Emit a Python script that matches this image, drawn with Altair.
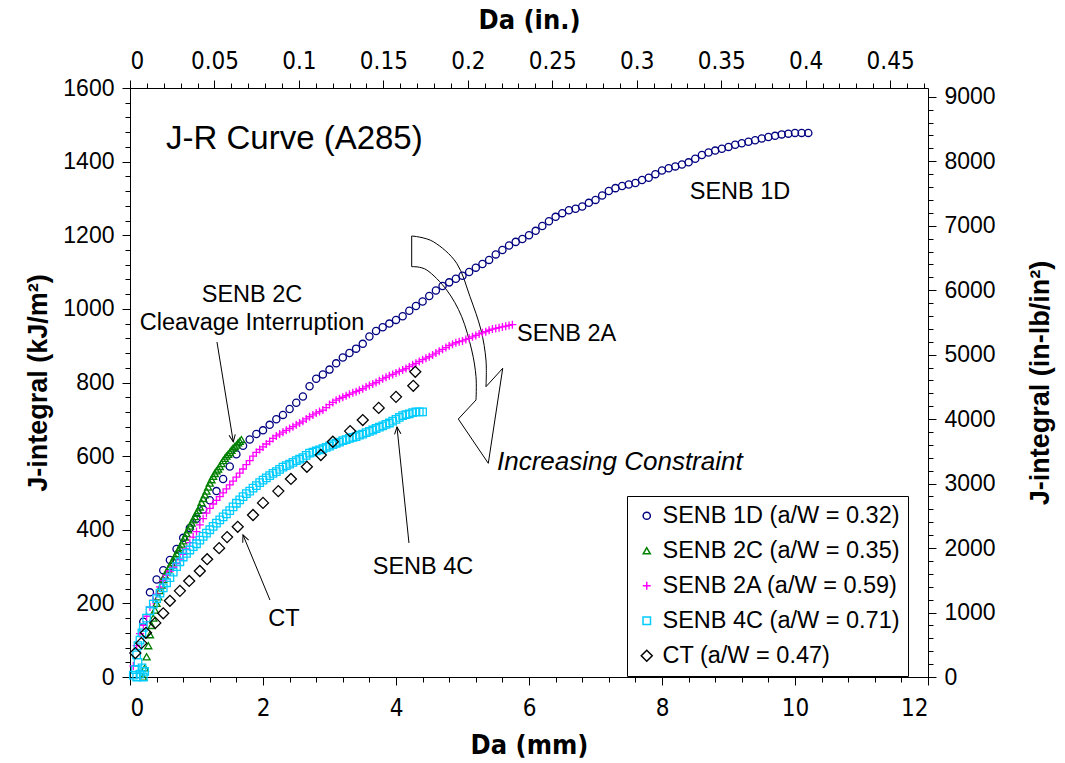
import math
import altair as alt
import pandas as pd

SANS = "Liberation Sans, Arial, sans-serif"
NARROW = "Liberation Sans Narrow, Arial Narrow, DejaVu Sans Condensed, Liberation Sans, sans-serif"

SERIES = ["SENB 1D (a/W = 0.32)", "SENB 2C (a/W = 0.35)", "SENB 2A (a/W = 0.59)",
          "SENB 4C (a/W = 0.71)", "CT (a/W = 0.47)"]
COLORS = ["#000080", "#008000", "#FF00FF", "#00CCFF", "#000000"]
SHAPES = ["circle", "triangle-up", "M-1,0L1,0M0,-1L0,1", "square", "diamond"]
SIZES = [52, 50, 64, 56, 121]

# ---- data (crack extension mm, J kJ/m^2) ----
A_1D = [0.2, 0.3, 0.4, 0.5, 0.6, 0.7, 0.8, 0.9, 1.0, 1.1, 1.2, 1.3, 1.4, 1.5, 1.6, 1.7, 1.8, 1.9, 2.0, 2.1,
        2.2, 2.3, 2.4, 2.5, 2.6, 2.7, 2.8, 2.9, 3.0, 3.1, 3.2, 3.3, 3.4, 3.5, 3.6, 3.7, 3.8, 3.9, 4.0, 4.1,
        4.2, 4.3, 4.4, 4.5, 4.6, 4.7, 4.8, 4.9, 5.0, 5.1, 5.2, 5.3, 5.4, 5.5, 5.6, 5.7, 5.8, 5.9, 6.0, 6.1,
        6.2, 6.3, 6.4, 6.5, 6.6, 6.7, 6.8, 6.9, 7.0, 7.1, 7.2, 7.3, 7.4, 7.5, 7.6, 7.7, 7.8, 7.9, 8.0, 8.1,
        8.2, 8.3, 8.4, 8.5, 8.6, 8.7, 8.8, 8.9, 9.0, 9.1, 9.2, 9.3, 9.4, 9.5, 9.6, 9.7, 9.8, 9.9, 10.0, 10.1,
        10.2]
J_1D = [150, 230, 265, 290, 318, 348, 378, 405, 430, 455,
        480, 505, 538, 572, 605, 628, 645, 660, 670, 685,
        700, 712, 728, 745, 762, 790, 810, 822, 835, 852,
        868, 880, 892, 905, 925, 940, 950, 960, 970, 980,
        995, 1008, 1020, 1035, 1050, 1062, 1072, 1082, 1090, 1100,
        1112, 1122, 1133, 1148, 1160, 1172, 1182, 1190, 1200, 1212,
        1225, 1238, 1250, 1260, 1268, 1272, 1278, 1288, 1296, 1308,
        1320, 1328, 1334, 1338, 1342, 1350, 1356, 1366, 1376, 1382,
        1387, 1392, 1398, 1408, 1418, 1425, 1430, 1435, 1440, 1446,
        1450, 1454, 1458, 1463, 1467, 1470, 1474, 1476, 1478, 1478,
        1478]

A_2C = [0.2, 0.225, 0.25, 0.275, 0.3, 0.325, 0.35, 0.375, 0.4, 0.425, 0.45, 0.475, 0.5, 0.525, 0.55,
        0.575, 0.6, 0.625, 0.65, 0.675, 0.7, 0.725, 0.75, 0.775, 0.8, 0.825, 0.85, 0.875, 0.9, 0.925,
        0.95, 0.975, 1.0, 1.025, 1.05, 1.075, 1.1, 1.125, 1.15, 1.175, 1.2, 1.225, 1.25, 1.275, 1.3,
        1.325, 1.35, 1.375, 1.4, 1.425, 1.45, 1.475, 1.5, 1.525, 1.55, 1.575, 1.6, 1.625, 1.65, 1.675]
J_2C = [0, 25, 55, 85, 115, 140, 160, 182, 200, 218,
        235, 250, 265, 276, 285, 293, 300, 310, 318, 327,
        335, 344, 352, 361, 370, 380, 390, 400, 410, 418,
        427, 436, 445, 453, 462, 474, 485, 495, 505, 516,
        527, 536, 545, 553, 560, 565, 572, 580, 588, 594,
        600, 605, 610, 616, 622, 626, 630, 636, 640, 645]

A_2A = [0.05, 0.1, 0.15, 0.2, 0.25, 0.3, 0.35, 0.4, 0.45, 0.5, 0.55, 0.6, 0.65, 0.7, 0.75, 0.8, 0.85, 0.9,
        0.95, 1.0, 1.05, 1.1, 1.15, 1.2, 1.25, 1.3, 1.35, 1.4, 1.45, 1.5, 1.55, 1.6, 1.65, 1.7, 1.75, 1.8,
        1.85, 1.9, 1.95, 2.0, 2.05, 2.1, 2.15, 2.2, 2.25, 2.3, 2.35, 2.4, 2.45, 2.5, 2.55, 2.6, 2.65, 2.7,
        2.75, 2.8, 2.85, 2.9, 2.95, 3.0, 3.05, 3.1, 3.15, 3.2, 3.25, 3.3, 3.35, 3.4, 3.45, 3.5, 3.55, 3.6,
        3.65, 3.7, 3.75, 3.8, 3.85, 3.9, 3.95, 4.0, 4.05, 4.1, 4.15, 4.2, 4.25, 4.3, 4.35, 4.4, 4.45, 4.5,
        4.55, 4.6, 4.65, 4.7, 4.75, 4.8, 4.85, 4.9, 4.95, 5.0, 5.05, 5.1, 5.15, 5.2, 5.25, 5.3, 5.35, 5.4,
        5.45, 5.5, 5.55, 5.6, 5.65, 5.7, 5.75]
J_2A = [30, 85, 118, 140, 165, 190, 208, 225, 245, 262,
        276, 288, 298, 308, 320, 333, 348, 365, 380, 395,
        413, 430, 445, 458, 470, 480, 490, 500, 511, 522,
        532, 543, 554, 565, 577, 588, 600, 610, 618, 625,
        633, 640, 648, 655, 660, 665, 670, 675, 680, 685,
        690, 695, 701, 707, 712, 717, 721, 725, 732, 740,
        746, 752, 756, 760, 764, 768, 772, 775, 779, 783,
        788, 792, 796, 800, 805, 810, 814, 818, 822, 826,
        830, 834, 838, 843, 848, 852, 857, 862, 866, 870,
        875, 880, 885, 890, 895, 900, 904, 908, 911, 913,
        917, 920, 924, 928, 932, 935, 938, 942, 945, 947,
        949, 951, 953, 955, 957]

A_4C = [0.05, 0.08, 0.1, 0.12, 0.15, 0.18, 0.2, 0.22, 0.1, 0.12, 0.15, 0.18, 0.2,
        0.25, 0.3, 0.35, 0.4, 0.45, 0.5, 0.55, 0.6, 0.65, 0.7, 0.75, 0.8, 0.85, 0.9, 0.95, 1.0, 1.05,
        1.1, 1.15, 1.2, 1.25, 1.3, 1.35, 1.4, 1.45, 1.5, 1.55, 1.6, 1.65, 1.7, 1.75, 1.8, 1.85, 1.9,
        1.95, 2.0, 2.05, 2.1, 2.15, 2.2, 2.25, 2.3, 2.35, 2.4, 2.45, 2.5, 2.55, 2.6, 2.65, 2.7, 2.75,
        2.8, 2.85, 2.9, 2.95, 3.0, 3.05, 3.1, 3.15, 3.2, 3.25, 3.3, 3.35, 3.4, 3.45, 3.5, 3.55, 3.6,
        3.65, 3.7, 3.75, 3.8, 3.85, 3.9, 3.95, 4.0, 4.05, 4.1, 4.15, 4.2, 4.25, 4.3, 4.35, 4.4]
J_4C = [5, 20, 0, 40, 8, 25, 0, 15, 60, 85, 100, 120, 135,
        160, 180, 198, 213, 228, 242, 256, 270, 285, 300,
        313, 326, 336, 345, 354, 362, 372, 382, 391, 400,
        409, 418, 427, 435, 443, 452, 462, 472, 481, 490,
        498, 505, 513, 520, 528, 535, 541, 547, 553, 558,
        564, 570, 574, 578, 583, 588, 592, 596, 602, 608,
        611, 614, 617, 620, 624, 627, 631, 635, 638, 642,
        645, 648, 651, 653, 657, 660, 664, 667, 671, 675,
        679, 682, 686, 690, 695, 700, 705, 710, 713, 715,
        718, 720, 720, 720]

A_CT = [0.08, 0.17, 0.24, 0.38, 0.5, 0.6, 0.75, 0.89, 1.05, 1.16, 1.34, 1.46, 1.62, 1.85, 2.0,
        2.23, 2.42, 2.66, 2.87, 3.05, 3.31, 3.5, 3.74, 4.0, 4.26, 4.29]
J_CT = [65, 92, 120, 147, 173, 207, 234, 261, 288, 320, 350, 380, 408, 440, 473,
        505, 538, 571, 603, 639, 668, 698, 731, 761, 791, 829]

# ---- axes ----
X_MAX_MM = 12
Y_MAX_KJ = 1600
MM_PER_IN = 25.4
KJ_TO_INLB = 5.7101
X_TICKS = [0, 2, 4, 6, 8, 10, 12]
Y_TICKS = [0, 200, 400, 600, 800, 1000, 1200, 1400, 1600]
XIN_TICKS = [0, 0.05, 0.1, 0.15, 0.2, 0.25, 0.3, 0.35, 0.4, 0.45]
YIN_TICKS = [0, 1000, 2000, 3000, 4000, 5000, 6000, 7000, 8000, 9000]
X_MINOR = [round(0.4 * i, 2) for i in range(31)]
Y_MINOR = [40 * i for i in range(41)]
XIN_MINOR = [round(0.01 * i, 2) for i in range(48)]
YIN_MINOR = [200 * i for i in range(46)]

# ---- annotations ----
TITLE_TXT = ["J-R Curve (A285)"]; TITLE_A = [0.541]; TITLE_J = [1434]
CTR_TXT = ["SENB 1D", "SENB 2C", "Cleavage Interruption", "SENB 4C", "CT"]
CTR_A = [9.173, 1.835, 1.835, 4.406, 2.316]
CTR_J = [1298, 1019.5, 942.6, 280, 138.5]
LEFT_TXT = ["SENB 2A"]; LEFT_A = [5.82]; LEFT_J = [913.5]
ITAL_TXT = ["Increasing Constraint"]; ITAL_A = [5.519]; ITAL_J = [562]

ARR_A0 = [1.308, 4.195, 2.105]; ARR_J0 = [910, 364, 209]
ARR_A1 = [1.553, 4.015, 1.699]; ARR_J1 = [639, 679, 386]

BIG_CURVE_SEG = ["outer"] * 7 + ["inner"] * 7
BIG_CURVE_A = [4.236, 4.561, 4.913, 5.113, 5.278, 5.353, 5.353,
               4.236, 4.462, 4.762, 4.988, 5.138, 5.203, 5.203]
BIG_CURVE_J = [1198.0, 1182.5, 1123.8, 1033.1, 942.6, 861.1, 788.6,
               1114.6, 1105.6, 1051.3, 978.8, 888.3, 815.8, 752.5]
BIG_LINE_SEG = ["head"] * 5 + ["end"] * 2
BIG_LINE_A = [5.203, 4.937, 5.388, 5.605, 5.353, 4.236, 4.236]
BIG_LINE_J = [752.5, 700.8, 580.5, 838.6, 788.6, 1198.0, 1114.6]

W, H = 798, 589
PX_A = W / X_MAX_MM
PX_J = H / Y_MAX_KJ

# ---- frames ----
rows = []
for name, A, J in zip(SERIES, [A_1D, A_2C, A_2A, A_4C, A_CT], [J_1D, J_2C, J_2A, J_4C, J_CT]):
    for a, j in zip(A, J):
        rows.append({"a": a, "J": j, "series": name})
pts = pd.DataFrame(rows)

xs = alt.Scale(domain=[0, X_MAX_MM], nice=False, zero=False)
ys = alt.Scale(domain=[0, Y_MAX_KJ], nice=False, zero=False)
xs_in = alt.Scale(domain=[0, X_MAX_MM / MM_PER_IN], nice=False, zero=False)
ys_in = alt.Scale(domain=[0, Y_MAX_KJ * KJ_TO_INLB], nice=False, zero=False)


def ax(orient, values, size, labels=True, domain=True, font=SANS, fs=22, title="", fmt=None, **kw):
    args = dict(orient=orient, values=values, tickSize=size, labels=labels, domain=domain, grid=False,
                ticks=True, tickColor="black", tickWidth=1, domainColor="black", domainWidth=1,
                labelFont=font, labelFontSize=fs, labelColor="black", title=title)
    if fmt:
        args["format"] = fmt
    args.update(kw)
    return alt.Axis(**args)


bottom_major = ax("bottom", X_TICKS, 8, font=NARROW, fs=24, fmt="d", labelPadding=11,
                  title="Da (mm)", titleFont=NARROW, titleFontSize=27, titleFontWeight="bold",
                  titleColor="black", titleY=68, titleBaseline="middle")
left_major = ax("left", Y_TICKS, 8, fs=23, fmt="d", labelPadding=8,
                title="J-integral (kJ/m²)", titleFont=SANS, titleFontSize=27, titleFontWeight="bold",
                titleColor="black", titleAngle=270, titleX=-92, titleY=H / 2,
                titleAlign="center", titleBaseline="middle")
top_major = ax("top", XIN_TICKS, 8, font=NARROW, fs=24, fmt=".2~f", labelPadding=7,
               title="Da (in.)", titleFont=NARROW, titleFontSize=27, titleFontWeight="bold",
               titleColor="black", titleY=-68, titleBaseline="middle")
right_major = ax("right", YIN_TICKS, 8, fs=23, fmt="d", labelPadding=8,
                 title="J-integral (in-lb/in²)", titleFont=SANS, titleFontSize=27, titleFontWeight="bold",
                 titleColor="black", titleAngle=270, titleX=112, titleY=H / 2,
                 titleAlign="center", titleBaseline="middle")

dummy = pd.DataFrame({"a": [0, X_MAX_MM], "J": [0, Y_MAX_KJ]})
dummy_in = pd.DataFrame({"a": [0, X_MAX_MM / MM_PER_IN], "J": [0, Y_MAX_KJ * KJ_TO_INLB]})

minor_mm = alt.Chart(dummy).mark_point(opacity=0).encode(
    x=alt.X("a:Q", scale=xs, axis=ax("bottom", X_MINOR, 5, labels=False, domain=False)),
    y=alt.Y("J:Q", scale=ys, axis=ax("left", Y_MINOR, 5, labels=False, domain=False)),
)
major_in = alt.Chart(dummy_in).mark_point(opacity=0).encode(
    x=alt.X("a:Q", scale=xs_in, axis=top_major),
    y=alt.Y("J:Q", scale=ys_in, axis=right_major),
)
minor_in = alt.Chart(dummy_in).mark_point(opacity=0).encode(
    x=alt.X("a:Q", scale=xs_in, axis=ax("top", XIN_MINOR, 5, labels=False, domain=False)),
    y=alt.Y("J:Q", scale=ys_in, axis=ax("right", YIN_MINOR, 5, labels=False, domain=False)),
)

leg = alt.Legend(orient="none", legendX=497, legendY=408, direction="vertical",
                 strokeColor="black", fillColor="white", padding=8, labelFont=SANS,
                 labelFontSize=23.5, labelColor="black", labelLimit=500, symbolSize=40,
                 symbolStrokeWidth=1.5, rowPadding=10, labelOffset=4, symbolOffset=0)

points = alt.Chart(pts).mark_point(filled=False, strokeWidth=1.3, opacity=1).encode(
    x=alt.X("a:Q", scale=xs, axis=bottom_major),
    y=alt.Y("J:Q", scale=ys, axis=left_major),
    color=alt.Color("series:N", scale=alt.Scale(domain=SERIES, range=COLORS), legend=leg, title=None),
    shape=alt.Shape("series:N", scale=alt.Scale(domain=SERIES, range=SHAPES), legend=leg, title=None),
    size=alt.Size("series:N", scale=alt.Scale(type="ordinal", domain=SERIES, range=SIZES), legend=None),
)

# annotations
def txt_layer(T, A, J, align, fs, style="normal"):
    df = pd.DataFrame({"a": A, "J": J, "t": T})
    return alt.Chart(df).mark_text(align=align, baseline="alphabetic", font=SANS, fontSize=fs,
                                   fontStyle=style, color="black").encode(
        x=alt.X("a:Q", scale=xs, axis=None), y=alt.Y("J:Q", scale=ys, axis=None), text="t:N")

title_t = txt_layer(TITLE_TXT, TITLE_A, TITLE_J, "left", 33)
ctr_t = txt_layer(CTR_TXT, CTR_A, CTR_J, "center", 23.5)
left_t = txt_layer(LEFT_TXT, LEFT_A, LEFT_J, "left", 23.5)
ital_t = txt_layer(ITAL_TXT, ITAL_A, ITAL_J, "left", 26, "italic")

angles = []
for a0, j0, a1, j1 in zip(ARR_A0, ARR_J0, ARR_A1, ARR_J1):
    dx = (a1 - a0) * PX_A
    dy = -(j1 - j0) * PX_J
    angles.append(math.degrees(math.atan2(dx, -dy)) % 360)
arr = pd.DataFrame({"a": ARR_A0, "J": ARR_J0, "a2": ARR_A1, "J2": ARR_J1, "ang": angles})
rules = alt.Chart(arr).mark_rule(color="black", strokeWidth=1).encode(
    x=alt.X("a:Q", scale=xs, axis=None), y=alt.Y("J:Q", scale=ys, axis=None), x2="a2:Q", y2="J2:Q")
heads = alt.Chart(arr).mark_point(shape="M-0.45,1L0,0L0.45,1", filled=False, strokeWidth=1,
                                  size=200, color="black", opacity=1).encode(
    x=alt.X("a2:Q", scale=xs, axis=None), y=alt.Y("J2:Q", scale=ys, axis=None),
    angle=alt.Angle("ang:Q", scale=None))

bc = pd.DataFrame({"seg": BIG_CURVE_SEG, "a": BIG_CURVE_A, "J": BIG_CURVE_J,
                   "o": list(range(len(BIG_CURVE_A)))})
bl = pd.DataFrame({"seg": BIG_LINE_SEG, "a": BIG_LINE_A, "J": BIG_LINE_J,
                   "o": list(range(len(BIG_LINE_A)))})
big_curve = alt.Chart(bc).mark_line(interpolate="cardinal", color="black", strokeWidth=1).encode(
    x=alt.X("a:Q", scale=xs, axis=None), y=alt.Y("J:Q", scale=ys, axis=None),
    detail="seg:N", order="o:Q")
big_line = alt.Chart(bl).mark_line(color="black", strokeWidth=1).encode(
    x=alt.X("a:Q", scale=xs, axis=None), y=alt.Y("J:Q", scale=ys, axis=None),
    detail="seg:N", order="o:Q")

chart = alt.layer(
    minor_mm, major_in, minor_in, big_curve, big_line, points, rules, heads,
    title_t, ctr_t, left_t, ital_t
).resolve_scale(x="independent", y="independent").properties(
    width=W, height=H,
    autosize=alt.AutoSizeParams(type="none"),
    padding={"left": 130, "top": 88, "right": 137, "bottom": 86},
).configure_view(stroke="transparent")

chart.save("out.html", embed_options={"renderer": "svg", "actions": False})
